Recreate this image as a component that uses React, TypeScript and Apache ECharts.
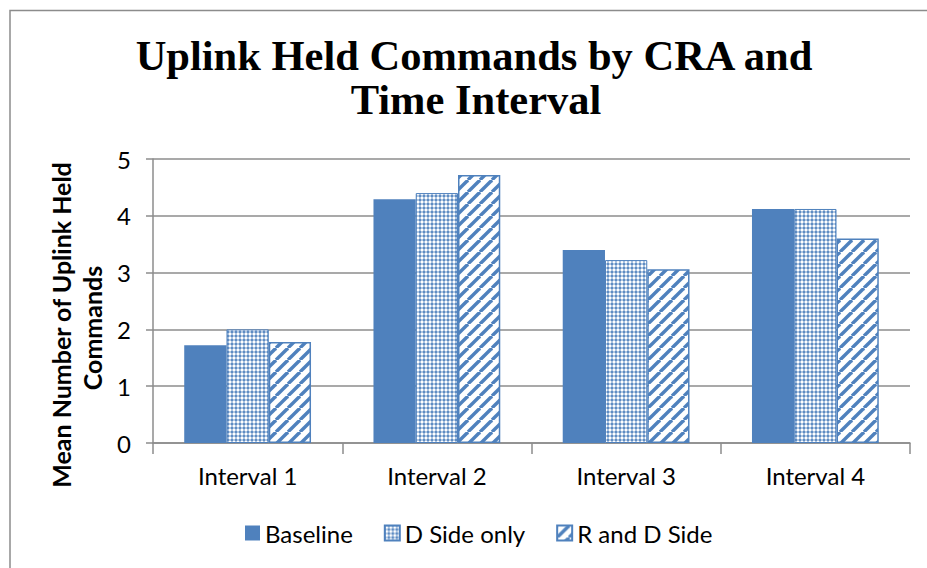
import React, { useEffect, useRef } from "react";
import * as echarts from "echarts";

const categories = ["Interval 1", "Interval 2", "Interval 3", "Interval 4"];
const seriesNames = ["Baseline", "D Side only", "R and D Side"];
const baseline = [1.72, 4.29, 3.4, 4.12];
const dSideOnly = [2.0, 4.4, 3.22, 4.12];
const rAndDSide = [1.78, 4.72, 3.06, 3.6];
const yTicks = [0, 1, 2, 3, 4, 5];
const titleLines = ["Uplink Held Commands by CRA and", "Time Interval"];
const yTitleLines = ["Mean Number of Uplink Held", "Commands"];

const BLUE = "#4F81BD";

function makeDots(): HTMLCanvasElement {
  const c = document.createElement("canvas");
  c.width = 4;
  c.height = 4;
  const ctx = c.getContext("2d")!;
  ctx.fillStyle = BLUE;
  ctx.fillRect(0, 0, 4, 4);
  ctx.fillStyle = "#ffffff";
  ctx.beginPath();
  ctx.arc(2, 2, 1.7, 0, Math.PI * 2);
  ctx.fill();
  return c;
}

function makeStripes(): HTMLCanvasElement {
  const s = 12;
  const c = document.createElement("canvas");
  c.width = s;
  c.height = s;
  const ctx = c.getContext("2d")!;
  ctx.fillStyle = "#ffffff";
  ctx.fillRect(0, 0, s, s);
  ctx.strokeStyle = BLUE;
  ctx.lineWidth = 3.4;
  for (const o of [-s, 0, s]) {
    ctx.beginPath();
    ctx.moveTo(o, s);
    ctx.lineTo(o + s, 0);
    ctx.stroke();
  }
  return c;
}

export default function App() {
  const ref = useRef<HTMLDivElement>(null);
  useEffect(() => {
    if (!ref.current) return;
    const chart = echarts.init(ref.current, null, { renderer: "svg" });
    const dots = makeDots();
    const stripes = makeStripes();
    const dotPattern: any = { image: dots, repeat: "repeat", imageWidth: 4, imageHeight: 4 };
    const stripePattern: any = { image: stripes, repeat: "repeat", imageWidth: 12, imageHeight: 12 };
    const values = [baseline, dSideOnly, rAndDSide];
    const styles: any[] = [
      { color: BLUE },
      { color: dotPattern, borderColor: BLUE, borderWidth: 1 },
      { color: stripePattern, borderColor: BLUE, borderWidth: 1.5 },
    ];
    const font = "Lato, 'Open Sans', sans-serif";
    chart.setOption({
      animation: false,
      backgroundColor: "#ffffff",
      grid: { left: 153, right: 17, top: 159, bottom: 125, containLabel: false },
      legend: {
        left: 240,
        top: 516,
        itemWidth: 15,
        itemHeight: 15,
        itemGap: 31,
        icon: "rect",
        textStyle: { fontSize: 24, fontFamily: font, color: "#000" },
        data: seriesNames,
      },
      xAxis: {
        type: "category",
        data: categories,
        axisLine: { lineStyle: { color: "#8c8c8c", width: 1.5 } },
        axisTick: { show: true, length: 11, lineStyle: { color: "#8c8c8c", width: 1.5 } },
        axisLabel: { fontSize: 24, fontFamily: font, color: "#000", margin: 20 },
      },
      yAxis: {
        type: "value",
        min: yTicks[0],
        max: yTicks[yTicks.length - 1],
        interval: 1,
        axisLine: { show: true, lineStyle: { color: "#8c8c8c", width: 1.5 } },
        axisTick: { show: true, inside: false, length: 7, lineStyle: { color: "#8c8c8c", width: 1.5 } },
        splitLine: { lineStyle: { color: "#8c8c8c", width: 1.5 } },
        axisLabel: { fontSize: 24, fontFamily: font, color: "#000", margin: 22 },
      },
      series: seriesNames.map((name, i) => ({
        name,
        type: "bar",
        data: values[i],
        barGap: "0%",
        barCategoryGap: "33%",
        itemStyle: styles[i],
      })),
      graphic: [
        {
          type: "polyline",
          shape: { points: [[10, 600], [10, 10.5], [930, 10.5]] },
          style: { stroke: "#8c8c8c", lineWidth: 1.5, fill: null },
          silent: true,
        },
        {
          type: "text",
          x: 474,
          y: 55,
          style: {
            text: titleLines[0],
            fontSize: 42.5,
            fontWeight: "bold",
            fontFamily: "'Liberation Serif', 'DejaVu Serif', serif",
            fill: "#000",
            align: "center",
            verticalAlign: "middle",
          },
        },
        {
          type: "text",
          x: 476,
          y: 99,
          style: {
            text: titleLines[1],
            fontSize: 42.5,
            fontWeight: "bold",
            fontFamily: "'Liberation Serif', 'DejaVu Serif', serif",
            fill: "#000",
            align: "center",
            verticalAlign: "middle",
          },
        },
        {
          type: "text",
          x: 61,
          y: 325,
          rotation: Math.PI / 2,
          style: {
            text: yTitleLines[0],
            fontSize: 25,
            fontWeight: "bold",
            fontFamily: font,
            fill: "#000",
            align: "center",
            verticalAlign: "middle",
          },
        },
        {
          type: "text",
          x: 92,
          y: 328,
          rotation: Math.PI / 2,
          style: {
            text: yTitleLines[1],
            fontSize: 25,
            fontWeight: "bold",
            fontFamily: font,
            fill: "#000",
            align: "center",
            verticalAlign: "middle",
          },
        },
      ],
    });
    return () => chart.dispose();
  }, []);
  return (
    <div
      ref={ref}
      style={{ position: "fixed", left: 0, top: 0, width: 927, height: 568 }}
    />
  );
}
